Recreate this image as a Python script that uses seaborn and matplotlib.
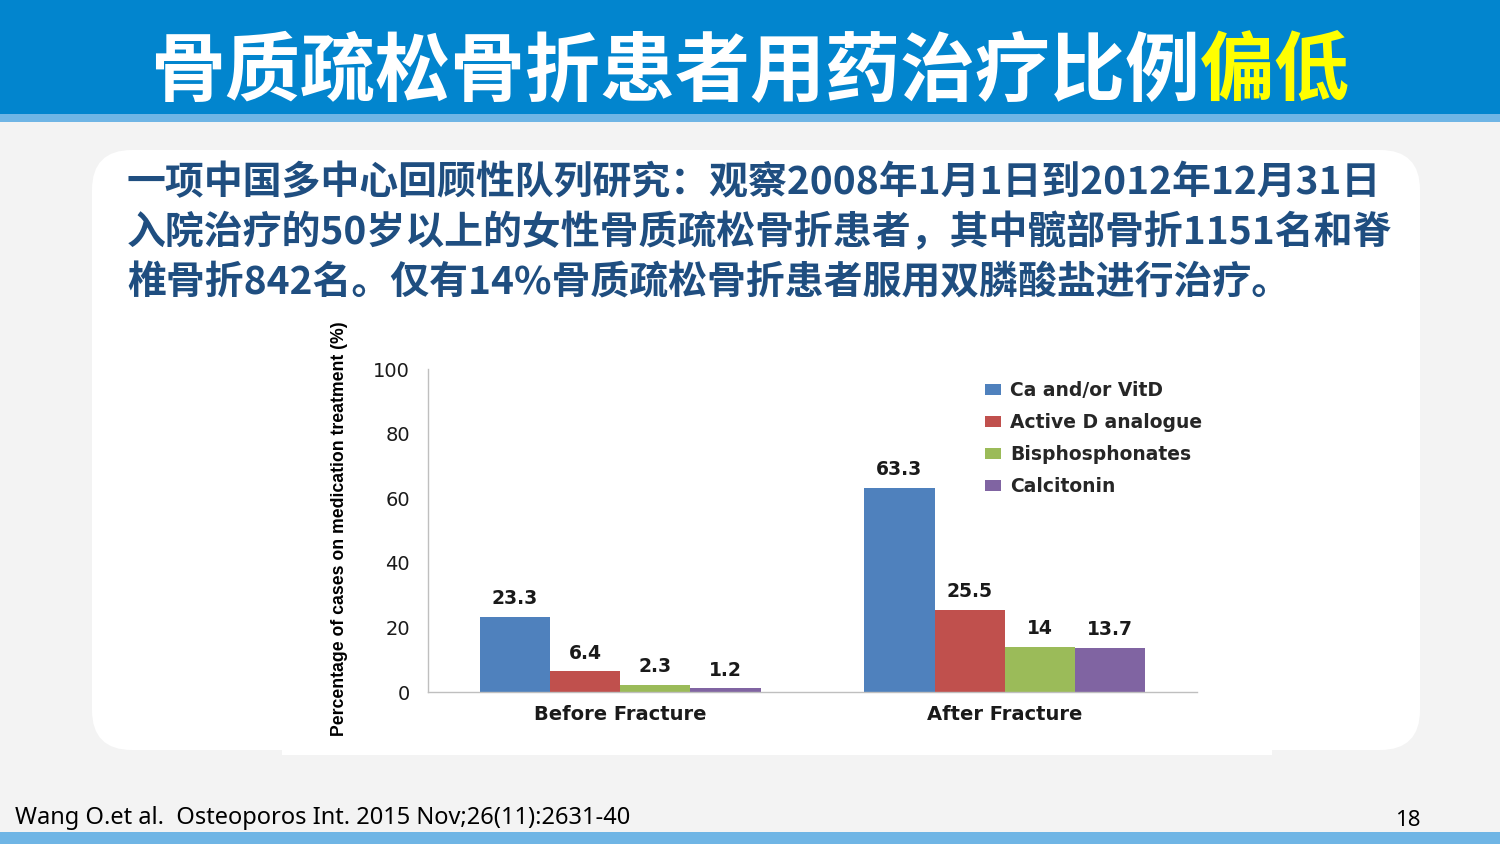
import matplotlib
matplotlib.use("Agg")
import matplotlib.pyplot as plt
import seaborn as sns
import pandas as pd
from matplotlib.patches import FancyBboxPatch, Rectangle

# ---------------- data ----------------
categories = ["Before Fracture", "After Fracture"]
series = ["Ca and/or VitD", "Active D analogue", "Bisphosphonates", "Calcitonin"]
before_vals = [23.3, 6.4, 2.3, 1.2]
after_vals = [63.3, 25.5, 14, 13.7]
colors = ["#4F81BD", "#C0504D", "#9BBB59", "#8064A2"]
yticks = [0, 20, 40, 60, 80, 100]

title_main = "骨质疏松骨折患者用药治疗比例"
title_hl = "偏低"
body_lines = [
    "一项中国多中心回顾性队列研究：观察2008年1月1日到2012年12月31日",
    "入院治疗的50岁以上的女性骨质疏松骨折患者，其中髋部骨折1151名和脊",
    "椎骨折842名。仅有14%骨质疏松骨折患者服用双膦酸盐进行治疗。",
]
ylabel = "Percentage of cases on medication treatment (%)"
footer = "Wang O.et al.  Osteoporos Int. 2015 Nov;26(11):2631-40"
page_no = "18"

rows = []
for cat, vals in zip(categories, [before_vals, after_vals]):
    for s, v in zip(series, vals):
        rows.append({"period": cat, "drug": s, "value": v})
df = pd.DataFrame(rows)

# ---------------- figure ----------------
sns.set_theme(style="white")
plt.rcParams["font.family"] = ["DejaVu Sans"]
W, H = 1500, 844
fig = plt.figure(figsize=(W / 100, H / 100), dpi=100)
fig.patch.set_facecolor("#F3F3F3")

bg = fig.add_axes([0, 0, 1, 1])
bg.set_xlim(0, W)
bg.set_ylim(H, 0)
bg.axis("off")
bg.set_zorder(-1)

# header
bg.add_patch(Rectangle((0, 0), W, 114, color="#0285CE", lw=0))
bg.add_patch(Rectangle((0, 114), W, 8, color="#6FB5E5", lw=0))
# bottom band
bg.add_patch(Rectangle((0, 832), W, 12, color="#6FB5E5", lw=0))
# white rounded content box
bg.add_patch(FancyBboxPatch((92 + 40, 150 + 40), 1328 - 80, 600 - 80,
                            boxstyle="round,pad=40", fc="white", ec="none"))
bg.add_patch(Rectangle((282, 320), 990, 435, color="white", lw=0))

cjk = ["Noto Sans CJK SC", "DejaVu Sans"]
bg.text(1200, 73, title_main, color="white", fontsize=54, fontweight="bold",
        family=cjk, ha="right", va="center")
bg.text(1200, 73, title_hl, color="#FFFF00", fontsize=54, fontweight="bold",
        family=cjk, ha="left", va="center")

for i, line in enumerate(body_lines):
    bg.text(127, 183 + 50 * i, line, color="#1F4E80", fontsize=28,
            fontweight="bold", family=cjk, ha="left", va="center")

bg.text(15, 818, footer, color="black", fontsize=17, family=["Noto Sans", "DejaVu Sans"],
        ha="left", va="center")
bg.text(1408, 820, page_no, color="black", fontsize=16, family=["Noto Sans", "DejaVu Sans"],
        ha="center", va="center")

# ---------------- chart ----------------
ax = fig.add_axes([428 / W, 1 - 692 / H, (1197 - 428) / W, (692 - 369) / H])
ax.set_facecolor("none")
sns.barplot(data=df, x="period", y="value", hue="drug", hue_order=series,
            order=categories, palette=colors, width=0.73, saturation=1,
            linewidth=0, ax=ax, errorbar=None)

for cont in ax.containers:
    ax.bar_label(cont, labels=[f"{v:g}" for v in cont.datavalues], padding=6,
                 fontsize=13.5, fontweight="bold", color="#1A1A1A")

ax.set_xlim(-0.5, 1.5)
ax.set_ylim(0, 100)
ax.set_yticks(yticks)
ax.set_yticklabels([str(t) for t in yticks], fontsize=14, color="#1A1A1A")
ax.set_xticks(range(len(categories)))
ax.set_xticklabels(categories, fontsize=14, fontweight="bold", color="#1A1A1A")
ax.set_xticks([-0.5, 0.5, 1.5], minor=True)
ax.tick_params(axis="x", which="major", length=0, pad=9)
ax.tick_params(axis="x", which="minor", length=5, width=1, color="#BFBFBF", direction="out")
ax.tick_params(axis="y", length=6, width=1, color="#BFBFBF", direction="out", pad=7)
for side in ["top", "right"]:
    ax.spines[side].set_visible(False)
for side in ["left", "bottom"]:
    ax.spines[side].set_color("#BFBFBF")
    ax.spines[side].set_linewidth(1)
ax.set_xlabel("")
ax.set_ylabel("")

fig.text(340 / W, 1 - 529 / H, ylabel, rotation=90, fontsize=12.7, fontweight="bold",
         family=["Liberation Sans", "DejaVu Sans"],
         ha="center", va="center", color="black")

handles, labels = ax.get_legend_handles_labels()
if ax.get_legend() is not None:
    ax.get_legend().remove()
fig.legend(handles, labels, loc="upper left", bbox_to_anchor=(985 / W, 1 - 381 / H),
           frameon=False, prop={"weight": "bold", "size": 13.5},
           handlelength=0.85, handleheight=0.55, handletextpad=0.5, labelspacing=0.7,
           borderaxespad=0, borderpad=0)

fig.savefig("out.png", dpi=100, facecolor=fig.get_facecolor())
